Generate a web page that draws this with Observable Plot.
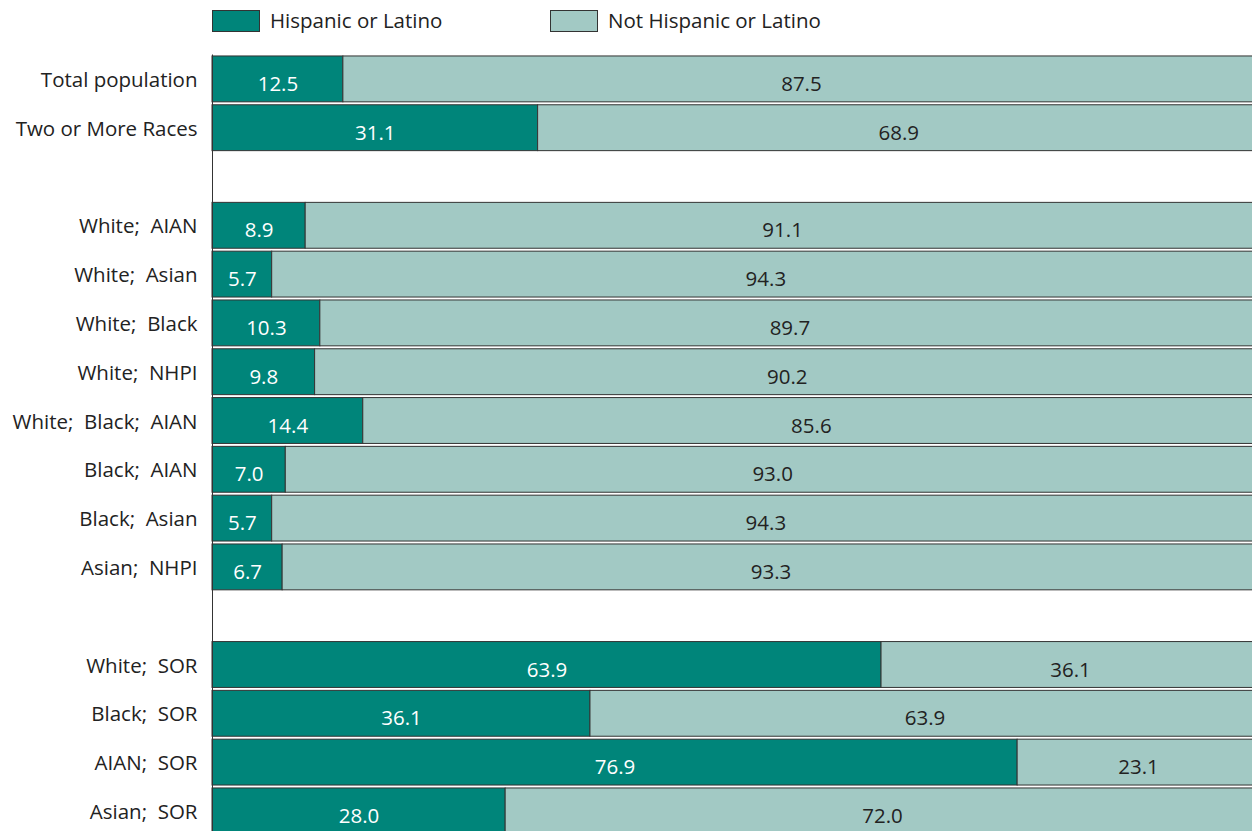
<!DOCTYPE html>
<html><head><meta charset="utf-8">
<script src="https://cdn.jsdelivr.net/npm/d3@7"></script>
<script src="https://cdn.jsdelivr.net/npm/@observablehq/plot@0.6"></script>
<style>
body{margin:0;background:#fff;font-family:"Open Sans",sans-serif;overflow:hidden}
#legend{position:relative;height:48px}
.sw{position:absolute;top:10px;width:46px;height:20px;border:1px solid #333}
.lt{position:absolute;top:6px;font-size:20.5px;color:#222;white-space:nowrap}
#chart{width:1259px}
#chart svg{max-width:none !important}
svg text{white-space:pre}
</style></head><body>
<div id="legend"></div><div id="chart"></div>
<script>
const categories = ["Total population","Two or More Races","gap1","White;  AIAN","White;  Asian","White;  Black","White;  NHPI","White;  Black;  AIAN","Black;  AIAN","Black;  Asian","Asian;  NHPI","gap2","White;  SOR","Black;  SOR","AIAN;  SOR","Asian;  SOR"];
const hispanic = [12.5,31.1,null,8.9,5.7,10.3,9.8,14.4,7.0,5.7,6.7,null,63.9,36.1,76.9,28.0];
const notHispanic = [87.5,68.9,null,91.1,94.3,89.7,90.2,85.6,93.0,94.3,93.3,null,36.1,63.9,23.1,72.0];
const seriesNames = ["Hispanic or Latino","Not Hispanic or Latino"];
const colors = ["#00857a","#a2c9c4"];
const textColors = ["#ffffff","#222222"];

// legend
const legend = document.getElementById("legend");
const legendX = [212, 550];
seriesNames.forEach((s,i)=>{
  const sw=document.createElement("div");sw.className="sw";sw.style.left=legendX[i]+"px";sw.style.background=colors[i];legend.appendChild(sw);
  const t=document.createElement("div");t.className="lt";t.style.left=(legendX[i]+58)+"px";t.textContent=s;legend.appendChild(t);
});

const data=[];
categories.forEach((c,i)=>{
  if(hispanic[i]==null) return;
  data.push({cat:c,series:seriesNames[0],value:hispanic[i]});
  data.push({cat:c,series:seriesNames[1],value:notHispanic[i]});
});

const chart = Plot.plot({
  width:1259, height:787.3,
  marginLeft:212, marginRight:0, marginTop:6.5, marginBottom:0,
  style:{fontFamily:"'Open Sans',sans-serif",fontSize:"20.5px",color:"#222",background:"#fff",maxWidth:"none"},
  x:{domain:[0,100],axis:null},
  y:{domain:categories,type:"band",paddingInner:0.06,paddingOuter:0.03,round:false,label:null},
  color:{domain:seriesNames,range:colors},
  marks:[
    Plot.barX(data, Plot.stackX({x:"value",y:"cat",fill:"series",stroke:"#333",strokeWidth:1})),
    ...seriesNames.map((s,i)=>Plot.text(data, Plot.stackX({x:"value",y:"cat",text:d=>d.series===s?d.value.toFixed(1):"",fill:textColors[i],fontSize:20.5,dy:5}))),
    Plot.ruleX([0],{stroke:"#333",strokeWidth:1}),
    Plot.axisY({tickSize:0,tickPadding:15,fontSize:20.5,dy:1,tickFormat:d=>d.startsWith("gap")?"":d,label:null})
  ]
});
document.getElementById("chart").appendChild(chart);
</script>
</body></html>
